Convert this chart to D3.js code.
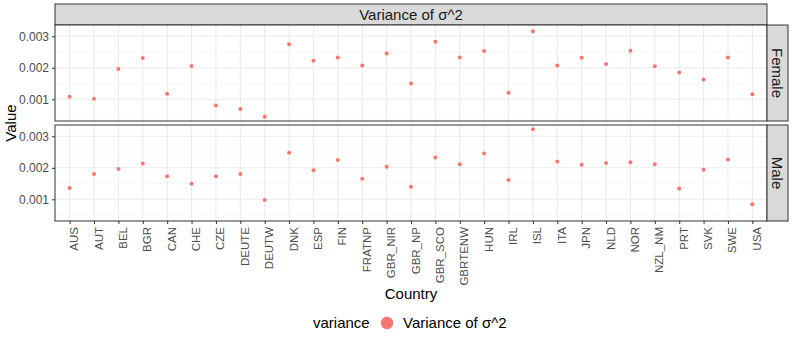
<!DOCTYPE html>
<html lang="en">
<head>
<meta charset="utf-8" />
<title>Variance of sigma^2</title>
<style>
  body { margin: 0; background: #fff; }
  svg text { font-family: "Liberation Sans", Arial, sans-serif; }
</style>
<script src="https://d3js.org/d3.v7.min.js"></script>
</head>
<body>
<script>

// data
const countries = ["AUS","AUT","BEL","BGR","CAN","CHE","CZE","DEUTE","DEUTW","DNK","ESP","FIN","FRATNP",
  "GBR_NIR","GBR_NP","GBR_SCO","GBRTENW","HUN","IRL","ISL","ITA","JPN","NLD","NOR","NZL_NM","PRT","SVK","SWE","USA"];

const female = [0.00108,0.00102,0.00196,0.00231,0.00118,0.00206,0.00080,0.00069,0.00045,0.00275,0.00222,0.00233,0.00207,
  0.00245,0.00150,0.00283,0.00233,0.00253,0.00121,0.00316,0.00207,0.00232,0.00212,0.00254,0.00205,0.00185,0.00163,0.00233,0.00116];

const male = [0.00136,0.00180,0.00196,0.00214,0.00173,0.00149,0.00173,0.00180,0.00098,0.00248,0.00192,0.00225,0.00165,
  0.00203,0.00140,0.00233,0.00211,0.00245,0.00161,0.00322,0.00220,0.00210,0.00215,0.00218,0.00211,0.00134,0.00194,0.00226,0.00084];

const yTicks = [0.001, 0.002, 0.003];
const yMinor = [0.0005, 0.0015, 0.0025];
const panels = [{ name: "Female", values: female }, { name: "Male", values: male }];
const stripTitle = "Variance of σ^2";

// layout
const W = 793, H = 340;
const left = 55, right = 767, stripW = 21;
const stripTop = 4, stripBottom = 25;
const panelH = 96, panelGap = 4;

const svg = d3.select("body").append("svg")
  .attr("width", W).attr("height", H);

// shared scales (ggplot style expansion)
const x = d3.scalePoint().domain(countries).range([left, right]).padding(0.6);
const all = female.concat(male);
const lo = d3.min(all), hi = d3.max(all), pad = (hi - lo) * 0.05;

// top strip
svg.append("rect")
  .attr("x", left).attr("y", stripTop)
  .attr("width", right - left).attr("height", stripBottom - stripTop)
  .attr("fill", "#d9d9d9").attr("stroke", "#333").attr("stroke-width", 1);
svg.append("text")
  .attr("x", (left + right) / 2).attr("y", (stripTop + stripBottom) / 2)
  .attr("dy", "0.35em").attr("text-anchor", "middle")
  .attr("font-size", 15).attr("fill", "#1a1a1a")
  .text(stripTitle);

panels.forEach((p, i) => {
  const top = stripBottom + i * (panelH + panelGap);
  const bottom = top + panelH;
  const y = d3.scaleLinear().domain([lo - pad, hi + pad]).range([bottom, top]);

  const g = svg.append("g");
  g.append("rect")
    .attr("x", left).attr("y", top).attr("width", right - left).attr("height", panelH)
    .attr("fill", "#fff");

  // grid
  g.selectAll(".minor").data(yMinor).join("line")
    .attr("x1", left).attr("x2", right)
    .attr("y1", d => y(d)).attr("y2", d => y(d))
    .attr("stroke", "#f2f2f2").attr("stroke-width", 0.6);
  g.selectAll(".majY").data(yTicks).join("line")
    .attr("x1", left).attr("x2", right)
    .attr("y1", d => y(d)).attr("y2", d => y(d))
    .attr("stroke", "#ebebeb").attr("stroke-width", 1.1);
  g.selectAll(".majX").data(countries).join("line")
    .attr("x1", d => x(d)).attr("x2", d => x(d))
    .attr("y1", top).attr("y2", bottom)
    .attr("stroke", "#ebebeb").attr("stroke-width", 1.1);

  // points
  g.selectAll("circle").data(p.values).join("circle")
    .attr("cx", (d, j) => x(countries[j]))
    .attr("cy", d => y(d))
    .attr("r", 2)
    .attr("fill", "#F8766D");

  // border
  g.append("rect")
    .attr("x", left).attr("y", top).attr("width", right - left).attr("height", panelH)
    .attr("fill", "none").attr("stroke", "#333").attr("stroke-width", 1);

  // y axis
  const ax = svg.append("g")
    .attr("transform", `translate(${left},0)`)
    .call(d3.axisLeft(y).tickValues(yTicks).tickSize(3).tickPadding(3).tickFormat(d3.format(".3f")));
  ax.select(".domain").remove();
  ax.selectAll("line").attr("stroke", "#333");
  ax.selectAll("text").attr("font-size", 12).attr("fill", "#4d4d4d")
    .attr("font-family", "Liberation Sans, Arial, sans-serif");

  // right strip
  svg.append("rect")
    .attr("x", right).attr("y", top).attr("width", stripW).attr("height", panelH)
    .attr("fill", "#d9d9d9").attr("stroke", "#333").attr("stroke-width", 1);
  svg.append("text")
    .attr("transform", `translate(${right + stripW / 2},${(top + bottom) / 2}) rotate(90)`)
    .attr("dy", "0.35em").attr("text-anchor", "middle")
    .attr("font-size", 15).attr("fill", "#1a1a1a")
    .text(p.name);

  // x axis on the bottom panel only
  if (i === panels.length - 1) {
    const xa = svg.append("g")
      .attr("transform", `translate(0,${bottom})`)
      .call(d3.axisBottom(x).tickSize(3).tickPadding(0));
    xa.select(".domain").remove();
    xa.selectAll("line").attr("stroke", "#333");
    xa.selectAll("text")
      .attr("font-size", 11.5).attr("fill", "#4d4d4d")
      .attr("font-family", "Liberation Sans, Arial, sans-serif")
      .attr("text-anchor", "end")
      .attr("dy", null)
      .attr("y", null)
      .attr("transform", "translate(8,6) rotate(-90)");
  }
});

// axis titles
const panelsBottom = stripBottom + 2 * panelH + panelGap;
svg.append("text")
  .attr("x", (left + right) / 2).attr("y", 299)
  .attr("text-anchor", "middle").attr("font-size", 15).attr("fill", "#000")
  .text("Country");
svg.append("text")
  .attr("transform", `translate(16,${(stripBottom + panelsBottom) / 2}) rotate(-90)`)
  .attr("text-anchor", "middle").attr("font-size", 15).attr("fill", "#000")
  .text("Value");

// legend
const leg = svg.append("g").attr("transform", "translate(0,323)");
leg.append("text").attr("x", 313).attr("dy", "0.35em")
  .attr("font-size", 15).text("variance");
leg.append("circle").attr("cx", 387).attr("cy", 0).attr("r", 6.2).attr("fill", "#F8766D");
leg.append("text").attr("x", 403).attr("dy", "0.35em")
  .attr("font-size", 15).text(stripTitle);

</script>
</body>
</html>
